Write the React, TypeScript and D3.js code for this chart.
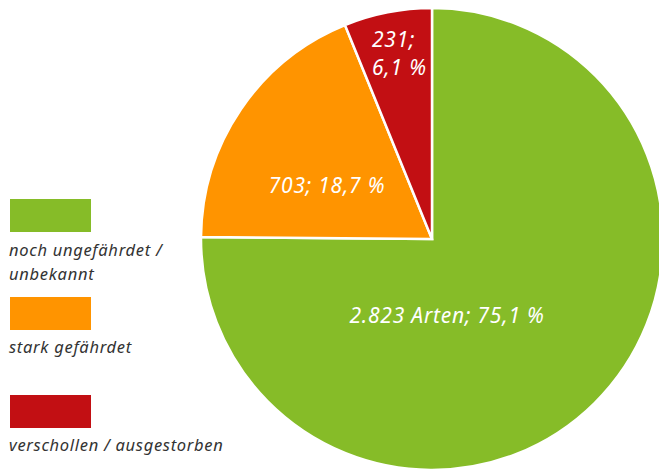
import React from "react";
import * as d3 from "d3";

const categories = ["noch ungefährdet / unbekannt", "stark gefährdet", "verschollen / ausgestorben"];
const values = [2823, 703, 231];
const labels = [["2.823 Arten; 75,1 %"], ["703; 18,7 %"], ["231;", "6,1 %"]];
const legendLines = [["noch ungefährdet /", "unbekannt"], ["stark gefährdet"], ["verschollen / ausgestorben"]];
const colors = ["#86bc28", "#ff9400", "#c20f13"];

export default function App() {
  const width = 659;
  const height = 472;
  const cx = 432;
  const cy = 239;
  const radius = 231;

  const pie = d3.pie<number>().sort(null).value((d) => d);
  const arcs = pie(values);
  const arc = d3.arc<d3.PieArcDatum<number>>().innerRadius(0).outerRadius(radius);

  // hand-placed label anchors, relative to the centre
  const labelAt = [
    [15, 84, "middle"],
    [-105, -46, "middle"],
    [-60, -192, "start"],
  ] as const;

  const legendRects = [199, 297, 395];
  const legendText = [256, 353, 451];

  return (
    <svg width={width} height={height} style={{ position: "absolute", left: 0, top: 0 }}>
      <g transform={`translate(${cx},${cy})`}>
        {arcs.map((a, i) => (
          <path key={i} d={arc(a) || ""} fill={colors[i]} stroke="#fff" strokeWidth={2.5} />
        ))}
        {arcs.map((a, i) => {
          const [x, y, anchor] = labelAt[i];
          return (
            <text key={i} x={x} y={y} fill="#fff" fontFamily="'Noto Sans', sans-serif" fontStyle="italic"
              fontSize={21} letterSpacing={0.8} textAnchor={anchor}>
              {labels[i].map((l, j) => (
                <tspan key={j} x={x} dy={j === 0 ? 0 : 28}>{l}</tspan>
              ))}
            </text>
          );
        })}
      </g>
      {categories.map((c, i) => (
        <g key={c}>
          <rect x={10} y={legendRects[i]} width={81} height={33} fill={colors[i]} />
          <text x={9} y={legendText[i]} fill="#333" fontFamily="'Noto Sans', sans-serif" fontStyle="italic"
            fontSize={16.5} letterSpacing={0.7}>
            {legendLines[i].map((l, j) => (
              <tspan key={j} x={9} dy={j === 0 ? 0 : 24}>{l}</tspan>
            ))}
          </text>
        </g>
      ))}
    </svg>
  );
}
